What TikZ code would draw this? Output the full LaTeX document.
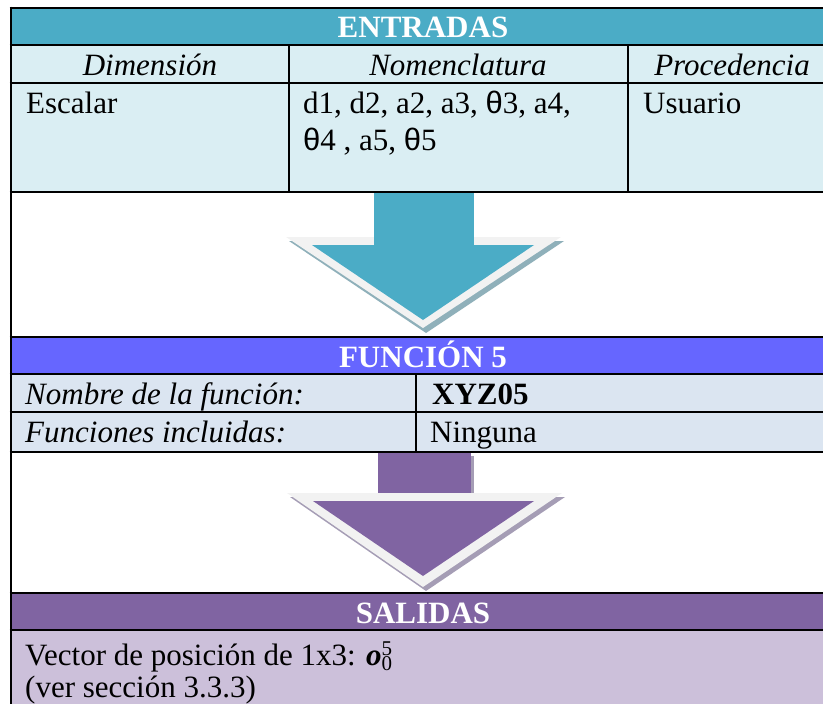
\RequirePackage{fix-cm}
\documentclass[tikz,border=0pt]{standalone}
\usepackage{amsmath}
\usepackage{fontspec}
\setmainfont{Liberation Serif}
\newfontfamily\thetafont{Liberation Sans}
\usepackage{tikz}
\definecolor{entteal}{RGB}{75,172,198}
\definecolor{entrow}{RGB}{218,238,243}
\definecolor{funblue}{RGB}{102,102,255}
\definecolor{funrow}{RGB}{219,229,241}
\definecolor{salpurple}{RGB}{128,100,162}
\definecolor{salrow}{RGB}{204,192,218}
\definecolor{arrowrim}{RGB}{242,242,242}
\definecolor{tealshadow}{RGB}{143,176,186}
\definecolor{purpshadow}{RGB}{165,157,181}
\newcommand{\bigtxt}{\fontsize{31}{37}\selectfont}
\newcommand{\smalltxt}{\fontsize{21}{21}\selectfont}
\newcommand{\thet}{{\thetafont θ}}
\newcommand{\vecpos}{{\bfseries\itshape o}\makebox[0pt][l]{\raisebox{10pt}{\smalltxt 5}}\raisebox{-5pt}{\smalltxt 0}}

\begin{document}
\begin{tikzpicture}[x=1pt,y=-1pt,
    hdrtxt/.style={font=\bigtxt\bfseries,text=white,anchor=base,inner sep=0pt},
    coltxt/.style={font=\bigtxt\itshape,anchor=base,inner sep=0pt},
    celltxt/.style={font=\bigtxt,anchor=base west,inner sep=0pt,align=left},
    rule/.style={line width=2.6pt}]
  \useasboundingbox (0,0) rectangle (823,704);
  \clip (0,0) rectangle (823,704);
  % fills
  \fill[entteal] (11,8) rectangle (840,45);
  \fill[entrow] (11,45) rectangle (840,192);
  \fill[funblue] (11,337) rectangle (840,374);
  \fill[funrow] (11,374) rectangle (840,452);
  \fill[salpurple] (11,593) rectangle (840,630);
  \fill[salrow] (11,630) rectangle (840,710);
  % first arrow
  \fill[entteal] (374,192) rectangle (474,245);
  \fill[tealshadow] (289,241) -- (564,241) -- (426,333) -- cycle;
  \fill[arrowrim] (286,237) -- (561,237) -- (423,328) -- cycle;
  \fill[entteal] (312,245) -- (534,245) -- (423,320) -- cycle;
  \fill[entteal] (374,237) rectangle (474,246);
  % second arrow
  \fill[purpshadow] (381,456) rectangle (474,500);
  \fill[salpurple] (378,452) rectangle (471,497);
  \fill[purpshadow] (290,497) -- (565,497) -- (426,591) -- cycle;
  \fill[arrowrim] (287,493) -- (562,493) -- (423,587) -- cycle;
  \fill[salpurple] (313,501) -- (534,501) -- (423,576) -- cycle;
  % lines
  \foreach \yy in {8,45,83,192,337,374,412,452,593,630}
    \draw[rule] (9.7,\yy) -- (840,\yy);
  \draw[rule] (11,6.7) -- (11,710);
  \draw[rule] (289,45) -- (289,192);
  \draw[rule] (628,45) -- (628,192);
  \draw[rule] (416,374) -- (416,452);
  % texts
  \node[hdrtxt] (entradas) at (423,37) {ENTRADAS};
  \node[coltxt] (dimension) at (150,75) {Dimensión};
  \node[coltxt] (nomencl) at (458,75) {Nomenclatura};
  \node[coltxt] (proced) at (732,75) {Procedencia};
  \node[celltxt] (escalar) at (26,113) {Escalar};
  \node[celltxt] (params) at (303,150) {d1, d2, a2, a3, \thet3, a4,\\\thet4 , a5, \thet5};
  \node[celltxt] (usuario) at (643,113) {Usuario};
  \node[hdrtxt] (funcion) at (423,367) {FUNCIÓN 5};
  \node[celltxt,font=\bigtxt\itshape] (nombre) at (25,404) {Nombre de la función:};
  \node[celltxt,font=\bigtxt\bfseries] (xyz) at (432,404) {XYZ05};
  \node[celltxt,font=\bigtxt\itshape] (incluidas) at (25,442) {Funciones incluidas:};
  \node[celltxt] (ninguna) at (430,442) {Ninguna};
  \node[hdrtxt] (salidas) at (423,623) {SALIDAS};
  \node[celltxt] (vector) at (25,665) {Vector de posición de 1x3: \vecpos};
  \node[celltxt] (seccion) at (25,697) {(ver sección 3.3.3)};
\end{tikzpicture}
\end{document}
